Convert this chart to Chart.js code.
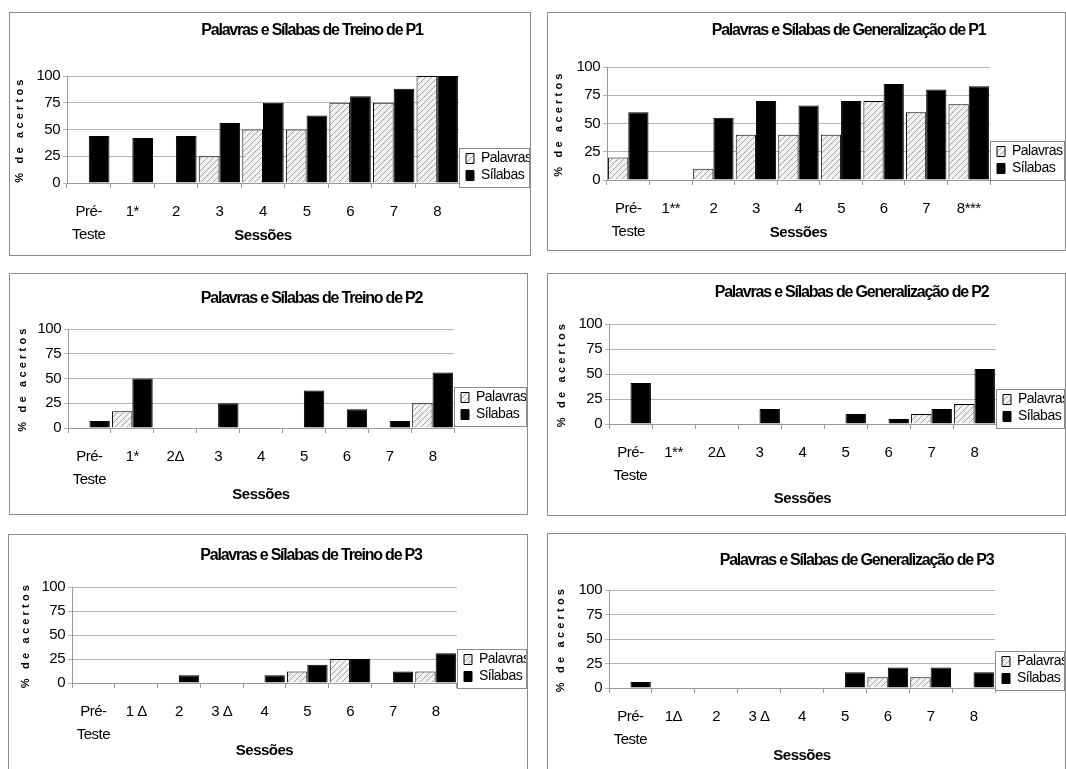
<!DOCTYPE html>
<html lang="pt">
<head>
<meta charset="UTF-8">
<title>Palavras e Sílabas</title>
<script src="https://cdn.jsdelivr.net/npm/chart.js@4/dist/chart.umd.min.js"></script>
<style>
    html, body { margin: 0; padding: 0; background: #fff; }
    body { width: 1066px; height: 769px; position: relative; overflow: hidden; }
    .panel { position: absolute; box-sizing: border-box; border: 1px solid #8c8c8c; background: #fff; }
    .panel canvas { display: block; }
</style>
</head>
<body>
<script>
    // series names and category labels
    var seriesNames = ['Palavras', 'Sílabas'];
    var preTeste = ['Pré-', 'Teste'];

    var labelsP1Treino = [preTeste, '1*', '2', '3', '4', '5', '6', '7', '8'];
    var labelsP1Gen = [preTeste, '1**', '2', '3', '4', '5', '6', '7', '8***'];
    var labelsP2Treino = [preTeste, '1*', '2Δ', '3', '4', '5', '6', '7', '8'];
    var labelsP2Gen = [preTeste, '1**', '2Δ', '3', '4', '5', '6', '7', '8'];
    var labelsP3Treino = [preTeste, '1 Δ', '2', '3 Δ', '4', '5', '6', '7', '8'];
    var labelsP3Gen = [preTeste, '1Δ', '2', '3 Δ', '4', '5', '6', '7', '8'];

    // % de acertos
    var palavrasP1Treino = [0, 0, 0, 25, 50, 50, 75, 75, 100];
    var silabasP1Treino = [44, 42, 44, 56, 75, 63, 81, 88, 100];
    var palavrasP1Gen = [20, 0, 10, 40, 40, 40, 70, 60, 67];
    var silabasP1Gen = [60, 0, 55, 70, 66, 70, 85, 80, 83];
    var palavrasP2Treino = [0, 17, 0, 0, 0, 0, 0, 0, 25];
    var silabasP2Treino = [7, 50, 0, 25, 0, 38, 19, 7, 56];
    var palavrasP2Gen = [0, 0, 0, 0, 0, 0, 0, 10, 20];
    var silabasP2Gen = [41, 0, 0, 15, 0, 10, 5, 15, 55];
    var palavrasP3Treino = [0, 0, 0, 0, 0, 12, 25, 0, 12];
    var silabasP3Treino = [0, 0, 8, 0, 8, 19, 25, 12, 31];
    var palavrasP3Gen = [0, 0, 0, 0, 0, 0, 11, 11, 0];
    var silabasP3Gen = [6, 0, 0, 0, 0, 16, 21, 21, 16];

    var yTicks = [0, 25, 50, 75, 100];

    Chart.defaults.font.family = "'Liberation Sans', Arial, sans-serif";
    Chart.defaults.color = '#000';

    // striped fill used for "Palavras"
    function hatch() {
        var c = document.createElement('canvas');
        c.width = c.height = 6;
        var g = c.getContext('2d');
        g.fillStyle = '#f2f2f2';
        g.fillRect(0, 0, 6, 6);
        g.strokeStyle = '#a4a4a4';
        g.lineWidth = 1;
        g.beginPath();
        g.moveTo(0, 6); g.lineTo(6, 0);
        g.moveTo(-1, 1); g.lineTo(1, -1);
        g.moveTo(5, 7); g.lineTo(7, 5);
        g.stroke();
        return g.createPattern(c, 'repeat');
    }
    var stripes = hatch();

    // draw one element's text with its own letter spacing
    function spaced(obj, name, sp) {
        if (obj['_sp_' + name]) return;
        var fn = obj[name];
        obj[name] = function () {
            this.ctx.save();
            this.ctx.letterSpacing = sp;
            fn.apply(this, arguments);
            this.ctx.restore();
        };
        obj['_sp_' + name] = true;
    }

    // small tweaks to get the old spreadsheet look (narrow text, shifted title, boxed legend)
    var excelLook = {
        id: 'excelLook',
        beforeUpdate: function (chart) { chart.ctx.letterSpacing = '-0.5px'; },
        beforeDraw: function (chart) { chart.ctx.letterSpacing = '-0.5px'; },
        afterLayout: function (chart, args, opts) {
            var t = chart.titleBlock;
            t.left += opts.titleDx;
            t.right += opts.titleDx;
            var lg = chart.legend;
            var dy = opts.legendY - (lg.top + lg.bottom) / 2;
            lg.top += dy;
            lg.bottom += dy;
            lg.left += 4;
            spaced(t, 'draw', '-1.2px');
            spaced(chart.scales.y, 'drawTitle', '3.2px');
        },
        afterDraw: function (chart) {
            var hb = chart.legend.legendHitBoxes;
            var ctx = chart.ctx;
            var last = hb[hb.length - 1];
            var top = Math.round(hb[0].top) - 4;
            var bottom = Math.round(last.top + last.height) + 4;
            var left = Math.round(chart.chartArea.right);
            ctx.save();
            ctx.strokeStyle = '#8c8c8c';
            ctx.lineWidth = 1;
            ctx.strokeRect(left + 0.5, top + 0.5, chart.width - left - 1, bottom - top);
            ctx.restore();
        }
    };

    // box = panel border [left, top, right, bottom]; the rest is inside the canvas
    var panels = [
        {title: 'Palavras e Sílabas de Treino de P1', labels: labelsP1Treino, pal: palavrasP1Treino, sil: silabasP1Treino,
            box: [9, 12, 530, 255], left: 57, right: 449, top: 63, bottom: 170, titleY: 18, titleDx: 42, legendY: 154, yTitle: 10, sess: 223},
        {title: 'Palavras e Sílabas de Generalização de P1', labels: labelsP1Gen, pal: palavrasP1Gen, sil: silabasP1Gen,
            box: [547, 12, 1065, 250], left: 59, right: 442, top: 54, bottom: 167, titleY: 18, titleDx: 42, legendY: 147, yTitle: 11, sess: 220},
        {title: 'Palavras e Sílabas de Treino de P2', labels: labelsP2Treino, pal: palavrasP2Treino, sil: silabasP2Treino,
            box: [9, 273, 527, 514], left: 58, right: 444, top: 55, bottom: 154, titleY: 25, titleDx: 43, legendY: 132, yTitle: 13, sess: 221},
        {title: 'Palavras e Sílabas de Generalização de P2', labels: labelsP2Gen, pal: palavrasP2Gen, sil: silabasP2Gen,
            box: [547, 273, 1065, 515], left: 61, right: 448, top: 50, bottom: 150, titleY: 19, titleDx: 45, legendY: 134, yTitle: 14, sess: 225},
        {title: 'Palavras e Sílabas de Treino de P3', labels: labelsP3Treino, pal: palavrasP3Treino, sil: silabasP3Treino,
            box: [8, 534, 527, 770], left: 63, right: 448, top: 52, bottom: 148, titleY: 21, titleDx: 43, legendY: 133, yTitle: 17, sess: 216},
        {title: 'Palavras e Sílabas de Generalização de P3', labels: labelsP3Gen, pal: palavrasP3Gen, sil: silabasP3Gen,
            box: [547, 533, 1065, 770], left: 61, right: 447, top: 56, bottom: 154, titleY: 27, titleDx: 50, legendY: 136, yTitle: 13, sess: 222}
    ];

    function makeChart(p) {
        var div = document.createElement('div');
        div.className = 'panel';
        div.style.left = p.box[0] + 'px';
        div.style.top = p.box[1] + 'px';
        div.style.width = (p.box[2] - p.box[0] + 1) + 'px';
        div.style.height = (p.box[3] - p.box[1] + 1) + 'px';
        var W = p.box[2] - p.box[0] - 1;
        var H = p.box[3] - p.box[1] - 1;
        var canvas = document.createElement('canvas');
        canvas.width = W;
        canvas.height = H;
        div.appendChild(canvas);
        document.body.appendChild(div);

        new Chart(canvas, {
            type: 'bar',
            data: {
                labels: p.labels,
                datasets: [
                    {label: seriesNames[0], data: p.pal, backgroundColor: stripes, borderColor: '#000', borderWidth: 1,
                        categoryPercentage: 0.95, barPercentage: 1},
                    {label: seriesNames[1], data: p.sil, backgroundColor: '#000', borderColor: '#000', borderWidth: 1,
                        categoryPercentage: 0.95, barPercentage: 1}
                ]
            },
            options: {
                responsive: false,
                animation: false,
                events: [],
                layout: {padding: 0},
                scales: {
                    x: {
                        grid: {offset: true, drawOnChartArea: false, tickLength: 5, color: '#999'},
                        border: {color: '#999'},
                        ticks: {font: {size: 15, lineHeight: 1.5}, padding: 13, maxRotation: 0, autoSkip: false},
                        title: {display: true, text: 'Sessões', font: {size: 15, weight: 'bold'},
                            padding: {top: 0, bottom: H - p.sess - 9}},
                        afterFit: function (s) { s.height = H - p.bottom; }
                    },
                    y: {
                        min: yTicks[0],
                        max: yTicks[yTicks.length - 1],
                        afterBuildTicks: function (s) { s.ticks = yTicks.map(function (v) { return {value: v}; }); },
                        ticks: {font: {size: 15}, padding: 3},
                        grid: {color: '#b4b4b4', tickLength: 4},
                        border: {color: '#999'},
                        title: {display: true, text: '% de acertos', font: {size: 11, weight: 'bold'},
                            padding: {top: p.yTitle - 6.6, bottom: 0}},
                        afterFit: function (s) { s.width = p.left; }
                    }
                },
                plugins: {
                    title: {display: true, text: p.title, font: {size: 16, weight: 'bold'},
                        padding: {top: p.titleY - 9.6, bottom: p.top - p.titleY - 9.6}},
                    legend: {position: 'right', fullSize: false, maxWidth: W - p.right,
                        labels: {boxWidth: 8, boxHeight: 10, padding: 3, font: {size: 14}}},
                    tooltip: {enabled: false},
                    excelLook: {titleDx: p.titleDx, legendY: p.legendY}
                }
            },
            plugins: [excelLook]
        });
    }

    panels.forEach(makeChart);
</script>
</body>
</html>
